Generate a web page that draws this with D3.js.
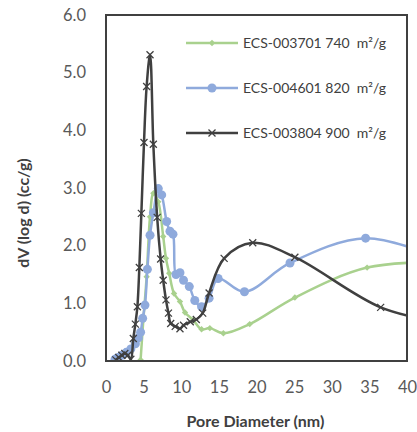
<!DOCTYPE html>
<meta charset="utf-8">
<script src="https://cdn.jsdelivr.net/npm/d3@7"></script>
<style>
  body { margin: 0; background: #fff; }
  text { font-family: Lato, "Open Sans", sans-serif; }
</style>
<body>
<div id="vis"></div>
<script>
  // series: [pore diameter (nm), dV (log d)]
  var green = [[4.6,0.02],[4.96,0.71],[5.4,1.46],[5.85,2.5],[6.3,2.91],[6.95,2.76],[7.6,2.16],[7.97,1.78],
    [8.4,1.52],[9.04,1.17],[9.83,1.03],[10.5,0.84],[11.6,0.71],[12.7,0.55],[13.8,0.57],[15.6,0.48],
    [19.1,0.64],[25.1,1.10],[34.7,1.62],[45,1.72]]
  var blue = [[1.2,0.03],[1.6,0.06],[2.1,0.1],[2.7,0.15],[3.3,0.21],[3.9,0.3],[4.3,0.4],[4.6,0.5],
    [4.87,0.74],[5.18,0.97],[5.5,1.59],[5.85,2.18],[6.3,2.57],[6.95,2.99],[7.4,2.88],[8.06,2.42],
    [8.5,2.25],[8.9,2.2],[9.3,1.5],[9.83,1.53],[10.3,1.40],[11.07,1.29],[11.8,1.05],[12.7,0.94],
    [13.7,1.09],[14.9,1.43],[18.4,1.20],[24.45,1.70],[34.5,2.13],[45,1.75]]
  var black = [[1.3,0.02],[1.7,0.06],[2.1,0.1],[2.5,0.13],[2.9,0.1],[3.3,0.03],[3.63,0.39],[3.9,0.64],
    [4.17,0.94],[4.43,1.62],[4.7,2.56],[5.05,3.79],[5.4,4.76],[5.85,5.31],[6.29,3.76],[6.8,2.49],
    [7.26,1.77],[7.6,1.40],[7.97,1.06],[8.3,0.83],[8.6,0.65],[9.2,0.6],[9.83,0.56],[10.3,0.62],
    [11.2,0.68],[12.0,0.72],[12.85,0.83],[13.7,1.18],[15.7,1.78],[19.5,2.05],[25.1,1.80],[36.5,0.93],[45,0.65]]

  var seriesNames = ["ECS-003701 740  m\u00b2/g", "ECS-004601 820  m\u00b2/g", "ECS-003804 900  m\u00b2/g"]
  var seriesColors = ["#a9d18e", "#8faadc", "#404040"]
  var seriesMarkers = ["diamond", "circle", "cross"]
  var xTicks = [0, 5, 10, 15, 20, 25, 30, 35, 40]
  var yTicks = [0, 1, 2, 3, 4, 5, 6]

  var allSeries = [green, blue, black]

  var W = 417, H = 432
  var margin = {top: 15, right: 10, bottom: 71, left: 106}
  var width = W - margin.left - margin.right,
      height = H - margin.top - margin.bottom

  var svg = d3.select("#vis").append("svg")
    .attr("width", W).attr("height", H)

  var g = svg.append("g")
    .attr("transform", "translate(" + margin.left + "," + margin.top + ")")

  var x = d3.scaleLinear().domain([0, 40]).range([0, width])
  var y = d3.scaleLinear().domain([0, 6]).range([height, 0])

  g.append("clipPath").attr("id", "clip")
    .append("rect").attr("width", width).attr("height", height)

  // tick labels
  g.append("g")
    .attr("transform", "translate(0," + height + ")")
    .call(d3.axisBottom(x).tickValues(xTicks).tickSize(0).tickPadding(20))
    .call(function(a) { a.select(".domain").remove() })
    .selectAll("text")
      .style("font-size", "16.5px").style("fill", "#595959")

  g.append("g")
    .call(d3.axisLeft(y).tickValues(yTicks).tickSize(0).tickPadding(20).tickFormat(d3.format(".1f")))
    .call(function(a) { a.select(".domain").remove() })
    .selectAll("text")
      .style("font-size", "16.5px").style("fill", "#595959")

  var line = d3.line()
    .x(function(d) { return x(d[0]) })
    .y(function(d) { return y(d[1]) })
    .curve(d3.curveCatmullRom.alpha(0.5))

  var plot = g.append("g").attr("clip-path", "url(#clip)")

  function drawMarker(sel, type, color) {
    if (type == "circle") {
      sel.append("circle").attr("r", 4.5).attr("fill", color)
    } else if (type == "diamond") {
      sel.append("path").attr("d", "M0,-3.2L3.2,0L0,3.2L-3.2,0Z").attr("fill", color)
    } else {
      sel.append("path").attr("d", "M-3.5,-3.5L3.5,3.5M-3.5,3.5L3.5,-3.5")
        .attr("stroke", color).attr("stroke-width", 1.3).attr("fill", "none")
    }
  }

  allSeries.forEach(function(data, i) {
    plot.append("path")
      .datum(data)
      .attr("fill", "none")
      .attr("stroke", seriesColors[i])
      .attr("stroke-width", 2.5)
      .attr("stroke-linejoin", "round")
      .attr("d", line)

    plot.selectAll(".m" + i)
      .data(data.filter(function(d) { return d[0] <= 40 }))
      .enter().append("g")
        .attr("class", "m" + i)
        .attr("transform", function(d) { return "translate(" + x(d[0]) + "," + y(d[1]) + ")" })
        .each(function() { drawMarker(d3.select(this), seriesMarkers[i], seriesColors[i]) })
  })

  // frame
  g.append("rect")
    .attr("width", width).attr("height", height)
    .attr("fill", "none").attr("stroke", "#404040").attr("stroke-width", 2)

  // legend
  var legend = g.append("g").attr("transform", "translate(80,28)")
  seriesNames.forEach(function(name, i) {
    var row = legend.append("g").attr("transform", "translate(0," + (i * 45) + ")")
    row.append("line").attr("x1", 0).attr("x2", 52)
      .attr("stroke", seriesColors[i]).attr("stroke-width", 2.5)
    var m = row.append("g").attr("transform", "translate(26,0)")
    drawMarker(m, seriesMarkers[i], seriesColors[i])
    row.append("text").attr("x", 57).attr("dy", "0.35em")
      .style("font-size", "14px").style("fill", "#404040")
      .style("white-space", "pre")
      .text(name)
  })

  // axis titles
  svg.append("text")
    .attr("x", margin.left + width / 2 - 1).attr("y", 421)
    .attr("text-anchor", "middle").attr("dy", "0.35em")
    .style("font-size", "16px").style("font-weight", "bold").style("fill", "#404040")
    .text("Pore Diameter (nm)")

  svg.append("text")
    .attr("transform", "translate(23,213) rotate(-90)")
    .attr("text-anchor", "middle").attr("dy", "0.35em")
    .style("font-size", "16px").style("font-weight", "bold").style("fill", "#404040")
    .text("dV (log d) (cc/g)")
</script>
</body>
